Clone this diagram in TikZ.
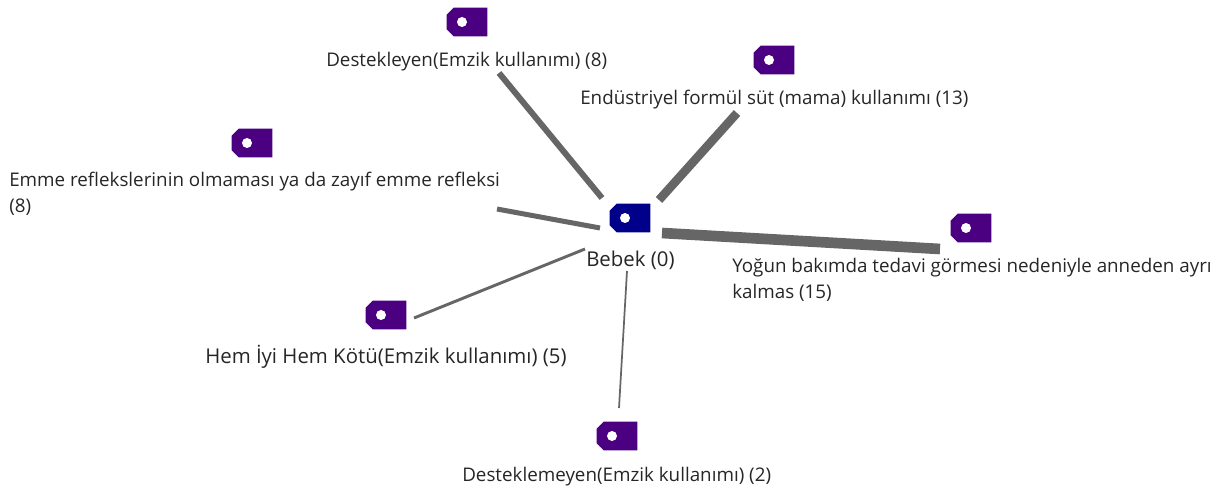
\documentclass[tikz,border=0pt]{standalone}
\usepackage{fontspec}
\setmainfont{Open Sans}
\usetikzlibrary{calc,positioning}
\definecolor{tagblue}{HTML}{00008B}
\definecolor{tagpurple}{HTML}{4B0082}
\definecolor{linkgray}{HTML}{666666}
\tikzset{
  tagnode/.style={rectangle,minimum width=30pt,minimum height=21pt,inner sep=0pt},
  tagtext/.style={text=black!85,font=\fontsize{14.1}{19.5}\selectfont,inner sep=0pt,align=left},
  bigtext/.style={tagtext,font=\fontsize{15.3}{20}\selectfont},
  link/.style={draw=linkgray,line width=#1}
}
\begin{document}
\begin{tikzpicture}[x=.75pt,y=-.75pt]
  \useasboundingbox (0,0) rectangle (1220,488);
  % etiketler
  \node[tagnode] (bebek) at (630,218) {};
  \node[tagnode] (destek) at (467,22) {};
  \node[tagnode] (mama) at (774,60) {};
  \node[tagnode] (emme) at (252,143) {};
  \node[tagnode] (yogun) at (971,228) {};
  \node[tagnode] (hem) at (386,315) {};
  \node[tagnode] (desteksiz) at (617,436) {};
  \foreach \t/\c in {bebek/tagblue,destek/tagpurple,mama/tagpurple,emme/tagpurple,yogun/tagpurple,hem/tagpurple,desteksiz/tagpurple}
  {
    \fill[\c] ($(\t.north west)+(7,0)$) -- (\t.north east) -- (\t.south east) -- ($(\t.south west)+(7,0)$) -- ($(\t.south west)+(0,-7)$) -- ($(\t.north west)+(0,7)$) -- cycle;
    \fill[white] ($(\t.center)+(-5,0)$) circle [radius=3.75pt];
  }
  % yazilar
  \node[bigtext,anchor=base west] (lbebek) at (586,267) {Bebek (0)};
  \node[tagtext,anchor=base west] (ldestek) at (326,67) {Destekleyen(Emzik kullanımı) (8)};
  \node[tagtext,anchor=base west] (lmama) at (580,105) {Endüstriyel formül süt (mama) kullanımı (13)};
  \node[tagtext,anchor=north west] (lemme) at (9,172) {Emme reflekslerinin olmaması ya da zayıf emme refleksi\\(8)};
  \node[tagtext,anchor=north west] (lyogun) at (732,258) {Yoğun bakımda tedavi görmesi nedeniyle anneden ayrı\\kalmas (15)};
  \node[bigtext,anchor=base west] (lhem) at (205,363) {Hem İyi Hem Kötü(Emzik kullanımı) (5)};
  \node[tagtext,anchor=base west] (ldesteksiz) at (462,481) {Desteklemeyen(Emzik kullanımı) (2)};
  % baglantilar
  \coordinate (a1) at (499,73);  \coordinate (b1) at (602,198);
  \coordinate (a2) at (737,113); \coordinate (b2) at (659,200);
  \coordinate (a3) at (497,209); \coordinate (b3) at (600,228);
  \coordinate (a4) at (940,249); \coordinate (b4) at (662,233);
  \coordinate (a5) at (414,318); \coordinate (b5) at (585,249);
  \coordinate (a6) at (619,408); \coordinate (b6) at (627,271);
  \draw[link=4.5pt] (a1) -- (b1);
  \draw[link=6.5pt] (a2) -- (b2);
  \draw[link=3.75pt] (a3) -- (b3);
  \draw[link=8pt] (a4) -- (b4);
  \draw[link=2.2pt] (a5) -- (b5);
  \draw[link=1.3pt] (a6) -- (b6);
\end{tikzpicture}
\end{document}
